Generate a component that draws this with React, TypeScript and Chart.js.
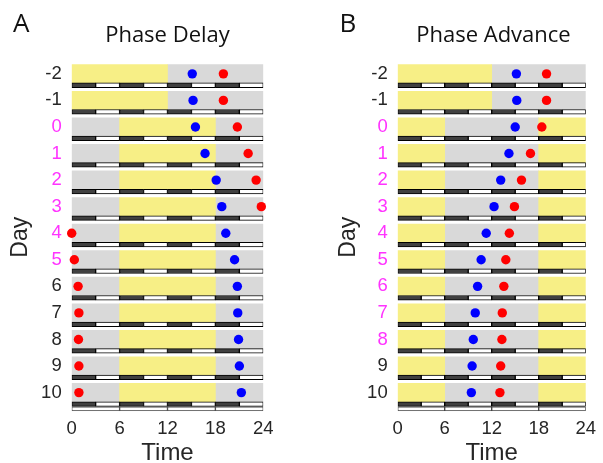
import { useEffect, useRef } from "react";
import { Chart, registerables } from "chart.js";

Chart.register(...registerables);

// ---------- data ----------
const days = [-2, -1, 0, 1, 2, 3, 4, 5, 6, 7, 8, 9, 10];
const xTickValues = [0, 6, 12, 18, 24];

// light period (on -> off, hours); when on > off the light period wraps past 24
const lightOnA = [0, 0, 6, 6, 6, 6, 6, 6, 6, 6, 6, 6, 6];
const lightOffA = [12, 12, 18, 18, 18, 18, 18, 18, 18, 18, 18, 18, 18];
const lightOnB = [0, 0, 18, 18, 18, 18, 18, 18, 18, 18, 18, 18, 18];
const lightOffB = [12, 12, 6, 6, 6, 6, 6, 6, 6, 6, 6, 6, 6];

// marker times (hours)
const blueA = [15.1, 15.2, 15.5, 16.7, 18.1, 18.8, 19.3, 20.4, 20.75, 20.8, 20.9, 21.0, 21.25];
const redA = [19.0, 19.0, 20.75, 22.1, 23.1, 23.75, 0.0, 0.33, 0.8, 0.9, 0.85, 0.9, 0.9];
const blueB = [15.15, 15.2, 15.0, 14.2, 13.15, 12.3, 11.3, 10.65, 10.2, 9.9, 9.65, 9.5, 9.4];
const redB = [19.0, 19.0, 18.4, 16.95, 15.8, 14.9, 14.25, 13.8, 13.55, 13.35, 13.3, 13.15, 13.05];

// highlighted day labels
const magentaDaysA = [0, 1, 2, 3, 4, 5];
const magentaDaysB = [0, 1, 2, 3, 4, 5, 6, 7, 8];

// time-bar stripe segments (hours)
const stripeDarkSegs = [[0, 3], [6, 9], [12, 15], [18, 21]];
const stripeWhiteSegs = [[3, 6], [9, 12], [15, 18], [21, 24]];

// ---------- styles ----------
const YELLOW = "#f7ef86";
const GRAY = "#d9d9d9";
const MAGENTA = "#ff33ff";
const TEXT = "#262626";
const FONT = "'Liberation Sans', Arial, sans-serif";

function lightSegs(on: number, off: number): number[][] {
  return on < off ? [[on, off]] : [[0, off], [on, 24]];
}
function darkSegs(on: number, off: number): number[][] {
  const s = on < off ? [[0, on], [off, 24]] : [[off, on]];
  return s.filter((p) => p[1] > p[0]);
}

function makeConfig(
  on: number[],
  off: number[],
  blue: number[],
  red: number[],
  magenta: number[],
  padLeft: number,
  padRight: number,
  titlePad: number
): any {
  const barCommon = {
    type: "bar",
    indexAxis: "y",
    grouped: false,
    borderSkipped: false,
  };
  const lastDay = days[days.length - 1];
  return {
    type: "bar",
    data: {
      datasets: [
        {
          type: "scatter",
          data: days.map((d, i) => ({ x: blue[i], y: d })),
          backgroundColor: "#0000ff",
          borderWidth: 0,
          pointRadius: 4.7,
          clip: false,
          order: 0,
        },
        {
          type: "scatter",
          data: days.map((d, i) => ({ x: red[i], y: d })),
          backgroundColor: "#ff0000",
          borderWidth: 0,
          pointRadius: 4.7,
          clip: false,
          order: 0,
        },
        {
          ...barCommon,
          data: days.flatMap((d) => stripeDarkSegs.map((s) => ({ y: d + 0.43, x: s }))),
          backgroundColor: "#404040",
          borderColor: "#000000",
          borderWidth: 1,
          barThickness: 4.6,
          order: 1,
        },
        {
          ...barCommon,
          data: days.flatMap((d) => stripeWhiteSegs.map((s) => ({ y: d + 0.43, x: s }))),
          backgroundColor: "#ffffff",
          borderColor: "#000000",
          borderWidth: 1,
          barThickness: 4.6,
          order: 1,
        },
        {
          ...barCommon,
          data: xTickValues.slice(1).map((t, i) => ({ y: lastDay + 0.61, x: [xTickValues[i], t] })),
          backgroundColor: "#ffffff",
          borderColor: "#444444",
          borderWidth: 1,
          barThickness: 4,
          order: 1,
        },
        {
          ...barCommon,
          data: days.flatMap((d, i) => lightSegs(on[i], off[i]).map((s) => ({ y: d, x: s }))),
          backgroundColor: YELLOW,
          borderWidth: 0,
          barThickness: 18.3,
          order: 2,
        },
        {
          ...barCommon,
          data: days.flatMap((d, i) => darkSegs(on[i], off[i]).map((s) => ({ y: d, x: s }))),
          backgroundColor: GRAY,
          borderWidth: 0,
          barThickness: 18.3,
          order: 2,
        },
      ],
    },
    options: {
      animation: false,
      responsive: false,
      devicePixelRatio: 1,
      layout: { padding: { left: padLeft, right: padRight, top: 63.2, bottom: 0 } },
      plugins: { legend: { display: false }, tooltip: { enabled: false }, title: { display: false } },
      events: [],
      scales: {
        x: {
          type: "linear",
          min: 0,
          max: 24,
          offset: false,
          grid: { display: false, drawTicks: false },
          border: { display: false },
          afterBuildTicks: (s: any) => {
            s.ticks = xTickValues.map((v) => ({ value: v }));
          },
          afterFit: (s: any) => {
            s.height = 51.8;
          },
          ticks: {
            autoSkip: false,
            maxRotation: 0,
            padding: 7,
            color: TEXT,
            font: { family: FONT, size: 18.5 },
          },
          title: {
            display: true,
            text: "Time",
            color: TEXT,
            font: { family: FONT, size: 24 },
            padding: { top: 0, bottom: -5 },
          },
        },
        y: {
          type: "linear",
          reverse: true,
          min: -2.4,
          max: 10.7,
          offset: false,
          grid: { display: false, drawTicks: false },
          border: { display: false },
          afterBuildTicks: (s: any) => {
            s.ticks = days.map((v) => ({ value: v }));
          },
          afterFit: (s: any) => {
            s.width = 71.7;
          },
          ticks: {
            autoSkip: false,
            padding: 10,
            font: { family: FONT, size: 18.5 },
            callback: (v: any) => String(v),
            color: (ctx: any) => (magenta.includes(ctx.tick.value) ? MAGENTA : TEXT),
          },
          title: {
            display: true,
            text: "Day",
            color: TEXT,
            font: { family: FONT, size: 23 },
            padding: { top: titlePad, bottom: 0 },
          },
        },
      },
    },
  };
}

const titleStyle: any = {
  position: "absolute",
  fontFamily: "'Open Sans', sans-serif",
  fontSize: 22,
  lineHeight: "22px",
  color: "#111",
  textAlign: "center",
  whiteSpace: "nowrap",
};
const letterStyle: any = {
  position: "absolute",
  fontFamily: "'Open Sans', sans-serif",
  fontSize: 26,
  lineHeight: "26px",
  color: "#111",
};

export default function App() {
  const refA = useRef<HTMLCanvasElement>(null);
  const refB = useRef<HTMLCanvasElement>(null);

  useEffect(() => {
    const a = new Chart(
      refA.current as HTMLCanvasElement,
      makeConfig(lightOnA, lightOffA, blueA, redA, magentaDaysA, 0, 36.7, 6.5)
    );
    const b = new Chart(
      refB.current as HTMLCanvasElement,
      makeConfig(lightOnB, lightOffB, blueB, redB, magentaDaysB, 26, 13.7, 8.5)
    );
    return () => {
      a.destroy();
      b.destroy();
    };
  }, []);

  return (
    <div
      style={{
        position: "absolute",
        left: 0,
        top: 0,
        width: 603,
        height: 463,
        background: "#ffffff",
        overflow: "hidden",
      }}
    >
      <canvas
        ref={refA}
        width={300}
        height={463}
        style={{ position: "absolute", left: 0, top: 0, width: 300, height: 463 }}
      />
      <canvas
        ref={refB}
        width={303}
        height={463}
        style={{ position: "absolute", left: 300, top: 0, width: 303, height: 463 }}
      />
      <div style={{ ...letterStyle, left: 13, top: 8.6 }}>A</div>
      <div style={{ ...letterStyle, left: 339.5, top: 9 }}>B</div>
      <div style={{ ...titleStyle, left: 71.7, width: 191.6, top: 22.2 }}>Phase Delay</div>
      <div style={{ ...titleStyle, left: 397.7, width: 191.6, top: 22.2 }}>Phase Advance</div>
    </div>
  );
}
